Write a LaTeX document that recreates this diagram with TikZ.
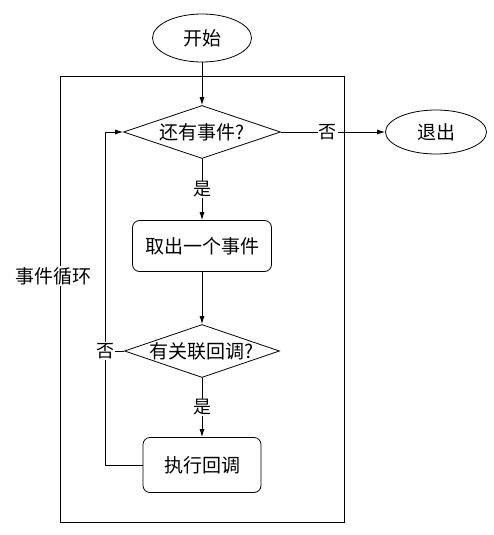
\documentclass[tikz,border=0pt]{standalone}
\usepackage{fontspec}
\newfontfamily\cjk{Noto Sans CJK SC}
\usetikzlibrary{shapes.geometric,arrows.meta}
\tikzset{
  base/.style={draw, line width=0.8pt, inner sep=0pt, font=\cjk\fontsize{19}{22}\selectfont},
  term/.style={base, ellipse},
  decis/.style={base, diamond},
  proc/.style={base, rectangle, rounded corners=7pt},
  lbl/.style={fill=white, inner sep=1pt, font=\cjk\fontsize{18}{22}\selectfont},
  txt/.style={inner sep=0pt, font=\cjk\fontsize{19}{22}\selectfont},
  flow/.style={line width=0.8pt, -{Latex[length=8pt,width=5pt]}},
  plain/.style={line width=0.8pt}
}
\begin{document}
\begin{tikzpicture}[x=1pt,y=-1pt]
\useasboundingbox (0,0) rectangle (494,535);
% frame
\draw[plain] (60,76) rectangle (344,522);
\node[lbl, font=\cjk\fontsize{19}{22}\selectfont] (looplbl) at (53,276) {事件循环};
% nodes
\node[term, minimum width=99pt, minimum height=48pt] (start) at (202,38) {开始};
\node[decis, minimum width=157pt, minimum height=53pt] (d1) at (202,132) {};
\node[txt] (d1t) at (d1) {还有事件?};
\node[term, minimum width=101pt, minimum height=44pt] (exit) at (436,132) {退出};
\node[proc, minimum width=139pt, minimum height=51pt] (b1) at (202,246) {取出一个事件};
\node[decis, minimum width=155pt, minimum height=53pt] (d2) at (202,351) {};
\node[txt] (d2t) at (d2) {有关联回调?};
\node[proc, minimum width=118pt, minimum height=55pt] (b2) at (202,465) {执行回调};
\coordinate (lb) at (105,465);
\coordinate (lt) at (105,132);
% connectors
\draw[flow] (start) -- (d1);
\draw[flow] (d1.east) -- node[lbl, pos=0.45] (no1) {否} (exit);
\draw[flow] (d1) -- node[lbl] (yes1) {是} (b1);
\draw[flow] (b1) -- (d2);
\draw[flow] (d2) -- node[lbl] (yes2) {是} (b2);
\draw[flow] (b2.west) -- (lb) -- (lt) -- (d1.west);
\node[lbl] (no2) at (105,351) {否};
\draw[plain] (d2.west) -- (no2.east);
\end{tikzpicture}
\end{document}
